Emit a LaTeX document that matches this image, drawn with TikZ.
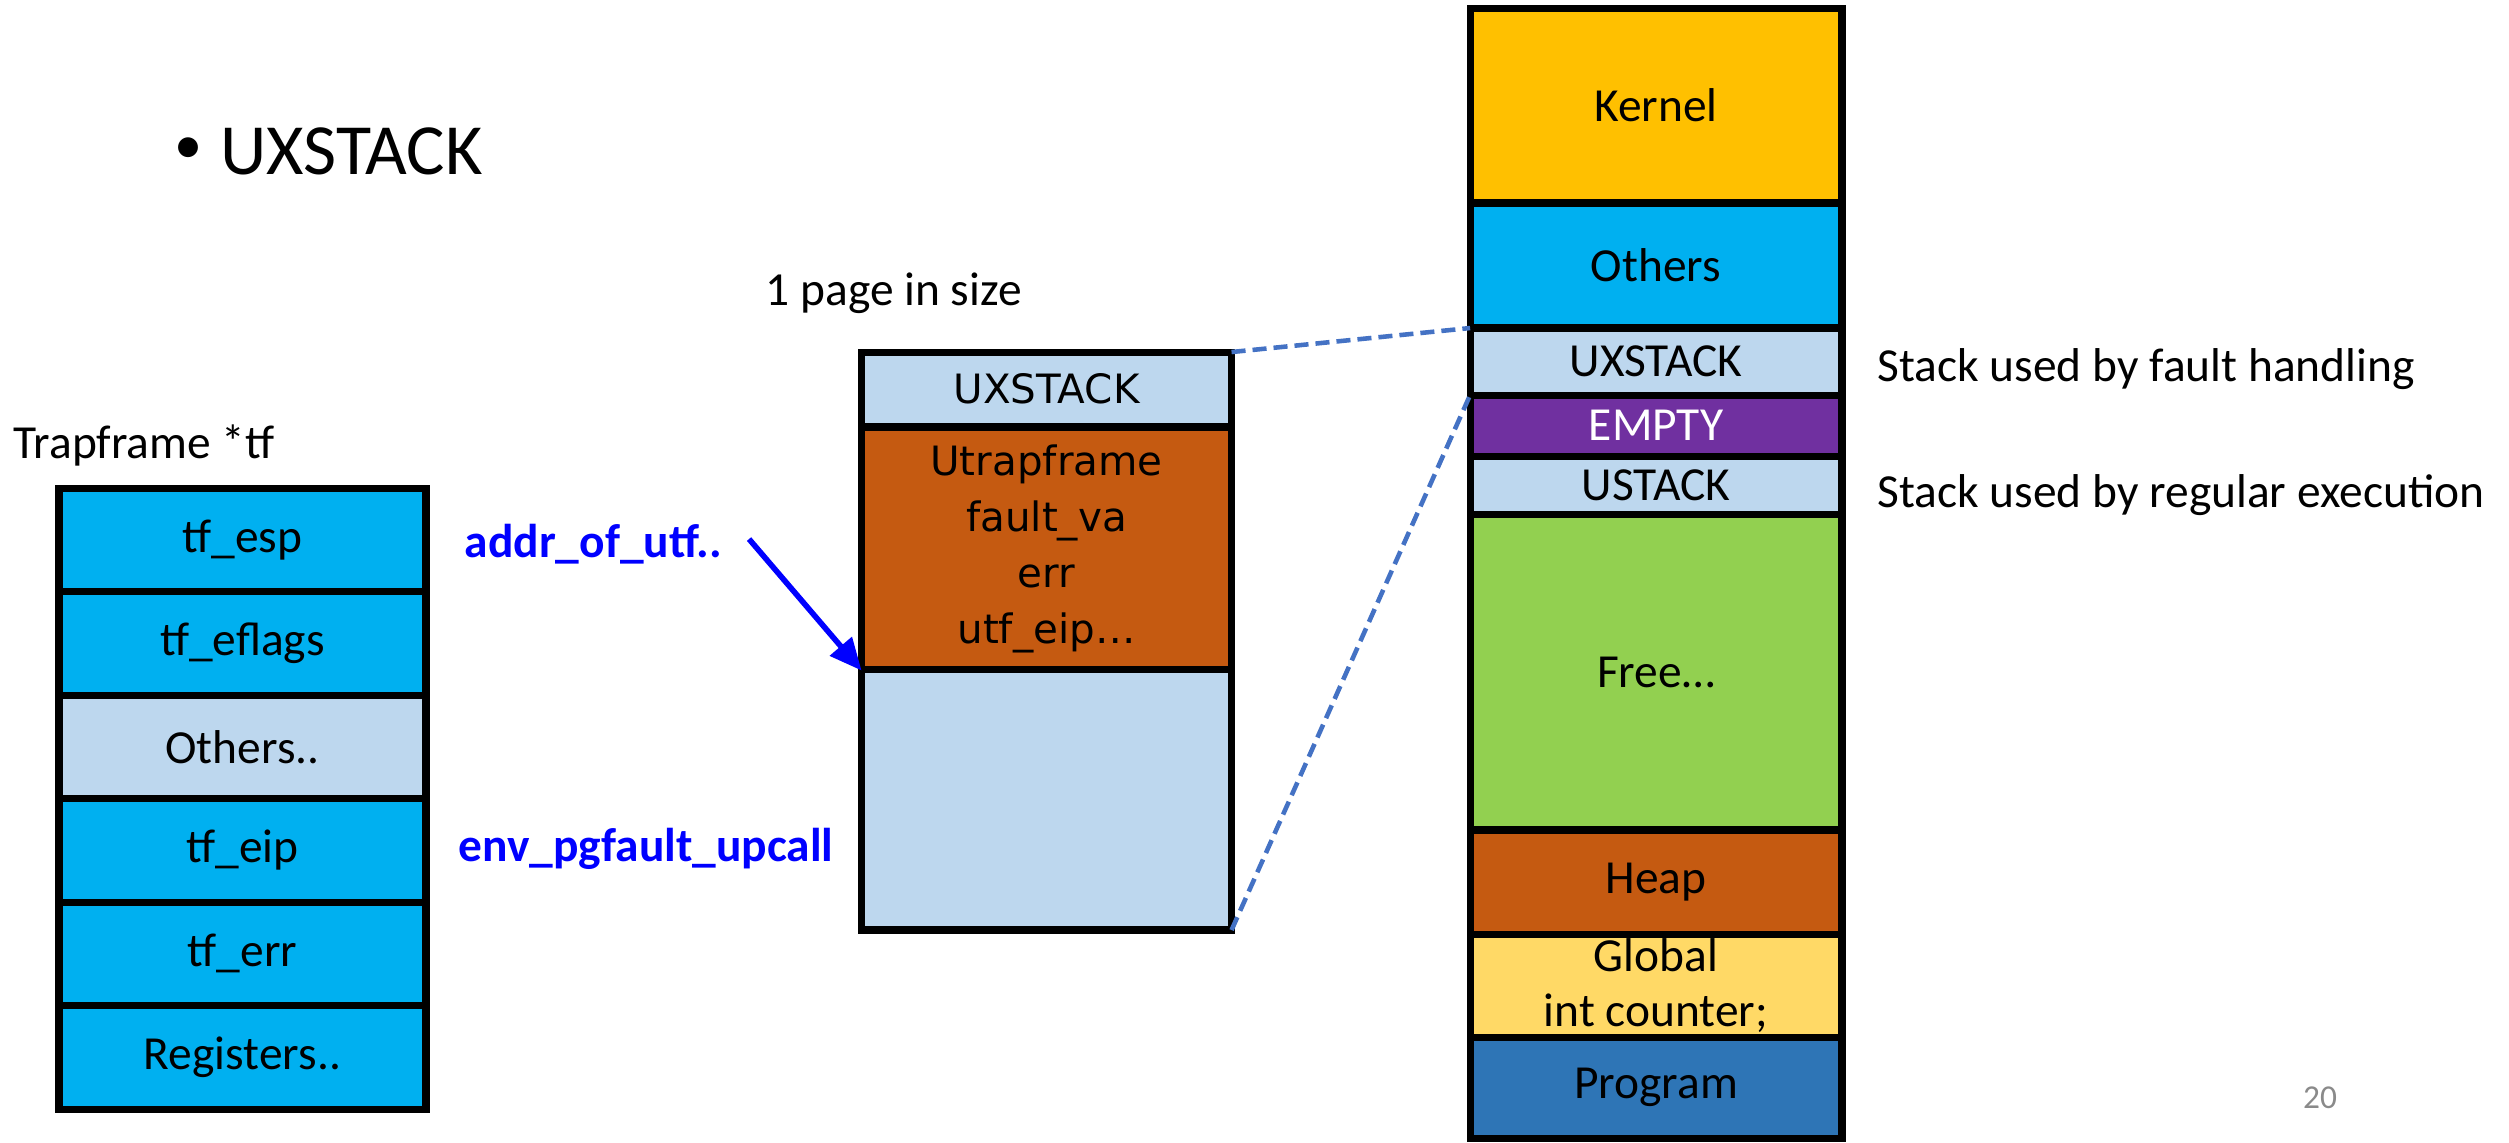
\documentclass[tikz,border=0pt]{standalone}
\usepackage{fontspec}
\setmainfont{Carlito}
\newfontfamily\verdfont{DejaVu Sans}
\usetikzlibrary{arrows.meta}
\definecolor{tfcyan}{HTML}{00B0F0}
\definecolor{pale}{HTML}{BDD7EE}
\definecolor{rust}{HTML}{C55A11}
\definecolor{gold}{HTML}{FFC000}
\definecolor{purp}{HTML}{7030A0}
\definecolor{leaf}{HTML}{92D050}
\definecolor{sand}{HTML}{FFD966}
\definecolor{navy}{HTML}{2E75B6}
\definecolor{dashblue}{HTML}{4472C4}

\begin{document}
\begin{tikzpicture}[scale=0.1]
    \tikzstyle{every node}+=[inner sep=0pt, font=\fontsize{13.5}{16}\selectfont]
    \tikzstyle{cell}=[draw=black, line width=2pt, outer sep=0pt, align=center]
    \tikzstyle{lcell}=[cell, minimum width=3.67cm, minimum height=1.035cm]
    \tikzstyle{mcell}=[cell, minimum width=3.70cm, font=\verdfont\fontsize{11.5}{16}\selectfont]
    \tikzstyle{rcell}=[cell, minimum width=3.72cm]
    \tikzstyle{bluelbl}=[anchor=base west, text=blue, font=\fontsize{13.5}{16}\selectfont\bfseries]
    \tikzstyle{zoomline}=[dashblue, line width=1.3pt, dash pattern=on 4pt off 2pt]
    \useasboundingbox (0,0) rectangle (250.9,-114.2);
    % title
    \draw (18.9,-15.1) node [font=\fontsize{16}{20}\selectfont] (dot) {•};
    \draw (22,-15.1) node [anchor=west, font=\fontsize{20.5}{24}\selectfont] (title) {UXSTACK};
    % trapframe
    \draw (1.3,-45.8) node [anchor=base west] (tfname) {Trapframe *tf};
    \draw (24.25,-53.975) node [lcell, fill=tfcyan] (esp) {tf\_esp};
    \draw (24.25,-64.325) node [lcell, fill=tfcyan] (eflags) {tf\_eflags};
    \draw (24.25,-74.675) node [lcell, fill=pale] (lothers) {Others..};
    \draw (24.25,-85.025) node [lcell, fill=tfcyan] (eip) {tf\_eip};
    \draw (24.25,-95.375) node [lcell, fill=tfcyan] (err) {tf\_err};
    \draw (24.25,-105.725) node [lcell, fill=tfcyan] (regs) {Registers..};
    \draw (46.4,-55.7) node [bluelbl] (addr) {addr\_of\_utf..};
    \draw (45.8,-86.1) node [bluelbl] (upcall) {env\_pgfault\_upcall};
    % exception stack page
    \draw (76.5,-30.5) node [anchor=base west] (pagesz) {1 page in size};
    \draw (104.65,-38.9) node [mcell, fill=pale, minimum height=0.74cm] (mux) {UXSTACK};
    \draw (104.65,-54.9) node [mcell, fill=rust, minimum height=2.43cm] (utrap) {Utrapframe\\fault\_va\\err\\utf\_eip…};
    \draw (104.65,-79.95) node [mcell, fill=pale, minimum height=2.61cm] (mblank) {};
    % address space
    \draw (165.6,-10.55) node [rcell, fill=gold, minimum height=1.95cm] (kernel) {Kernel};
    \draw (165.6,-26.55) node [rcell, fill=tfcyan, minimum height=1.25cm] (rothers) {Others};
    \draw (165.6,-36.15) node [rcell, fill=pale, minimum height=0.67cm] (rux) {UXSTACK};
    \draw (165.6,-42.55) node [rcell, fill=purp, minimum height=0.61cm, text=white] (empty) {EMPTY};
    \draw (165.6,-48.5) node [rcell, fill=pale, minimum height=0.58cm] (ustack) {USTACK};
    \draw (165.6,-67.2) node [rcell, fill=leaf, minimum height=3.16cm] (free) {Free…};
    \draw (165.6,-88.2) node [rcell, fill=rust, minimum height=1.04cm] (heap) {Heap};
    \draw (165.6,-98.55) node [rcell, fill=sand, minimum height=1.03cm, font=\fontsize{13.5}{15.5}\selectfont] (global) {Global\\int counter;};
    \draw (165.6,-108.75) node [rcell, fill=navy, minimum height=1.01cm] (prog) {Program};
    \draw (187.7,-38.1) node [anchor=base west] (uxnote) {Stack used by fault handling};
    \draw (187.7,-50.7) node [anchor=base west] (usnote) {Stack used by regular execution};
    \draw (232,-109.8) node [text=black!46, font=\fontsize{9.5}{11}\selectfont] (pgno) {20};
    % connectors
    \coordinate (utfstart) at (74.9,-53.9);
    \draw [blue, line width=1.6pt, -{Triangle[length=3.2mm,width=2.8mm]}] (utfstart) -- (utrap.south west);
    \draw [zoomline] (mux.north east) -- (rux.north west);
    \draw [zoomline] (mblank.south east) -- (rux.south west);
\end{tikzpicture}
\end{document}
